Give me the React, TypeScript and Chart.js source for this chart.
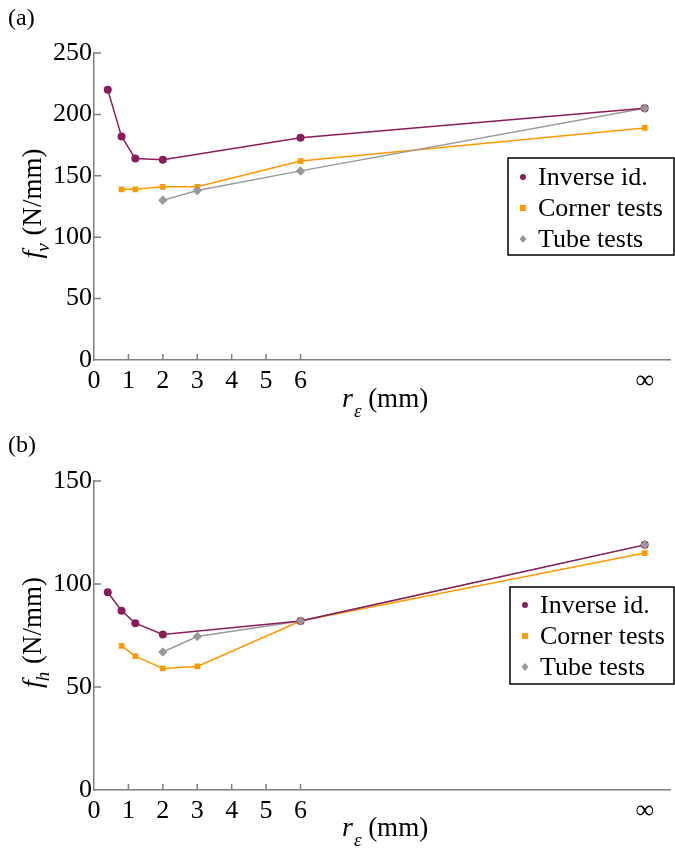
import React, { useEffect, useRef } from "react";
import { Chart, registerables } from "chart.js";
Chart.register(...registerables);

// ---------- data ----------
const INF_POS = 16; // position used for r = infinity
const X_TICKS = [0, 1, 2, 3, 4, 5, 6, INF_POS];
const X_TICK_LABELS = ["0", "1", "2", "3", "4", "5", "6", "∞"];
const X_TICK_MARKS = [1, 2, 3, 4, 5, 6];
const SERIES_NAMES = ["Inverse id.", "Corner tests", "Tube tests"];

const INVERSE_X = [0.4, 0.8, 1.2, 2, 6, INF_POS];
const CORNER_X = [0.8, 1.2, 2, 3, 6, INF_POS];
const TUBE_X = [2, 3, 6, INF_POS];

const A_INVERSE_Y = [220, 182, 164, 163, 181, 205];
const A_CORNER_Y = [139, 139, 141, 141, 162, 189];
const A_TUBE_Y = [130, 138, 154, 205];

const B_INVERSE_Y = [96, 87, 81, 75.5, 82, 119];
const B_CORNER_Y = [70, 65, 59, 60, 82, 115];
const B_TUBE_Y = [67, 74.5, 82, 119];

// ---------- styles ----------
const PURPLE = "#8b1c5c";
const ORANGE = "#ff9900";
const GRAY = "#999999";
const AXIS = "#7f7f7f";
const FONT = "Liberation Serif";

const pts = (xs: number[], ys: number[]) => xs.map((x, i) => ({ x, y: ys[i] }));

const decorPlugin = {
  id: "decor",
  afterDatasetsDraw(chart: any) {
    // tube-test markers sit on top of the other series' markers
    const meta = chart.getDatasetMeta(2);
    const area = chart.chartArea;
    meta.data.forEach((el: any) => el.draw(chart.ctx, area));
  },
  afterDraw(chart: any, _args: any, opts: any) {
    const ctx = chart.ctx;
    const xs = chart.scales.x;
    const ys = chart.scales.y;
    const area = chart.chartArea;
    ctx.save();
    // tick marks (inward)
    ctx.strokeStyle = AXIS;
    ctx.lineWidth = 1.5;
    ctx.beginPath();
    X_TICK_MARKS.forEach((v) => {
      const px = xs.getPixelForValue(v);
      ctx.moveTo(px, area.bottom);
      ctx.lineTo(px, area.bottom - 6);
    });
    for (let v = opts.yStep; v <= opts.yMax; v += opts.yStep) {
      const py = ys.getPixelForValue(v);
      ctx.moveTo(area.left, py);
      ctx.lineTo(area.left + 7, py);
    }
    ctx.stroke();

    ctx.fillStyle = "#000";
    // panel letter
    ctx.font = `24px "${FONT}"`;
    ctx.textBaseline = "alphabetic";
    ctx.textAlign = "left";
    ctx.fillText(opts.letter, 8, opts.letterY);

    // y title (rotated)
    ctx.save();
    ctx.translate(opts.yTitleX, (area.top + area.bottom) / 2 - 3);
    ctx.rotate(-Math.PI / 2);
    const mainF = `italic 28px "${FONT}"`;
    const subF = `italic 19px "${FONT}"`;
    const restF = `27px "${FONT}"`;
    ctx.font = mainF;
    const wf = ctx.measureText("f").width;
    ctx.font = subF;
    const ws = ctx.measureText(opts.ySub).width;
    ctx.font = restF;
    const wr = ctx.measureText(" (N/mm)").width;
    let x0 = -(wf + ws + wr) / 2;
    ctx.font = mainF;
    ctx.fillText("f", x0, 0);
    x0 += wf;
    ctx.font = subF;
    ctx.fillText(opts.ySub, x0 - 1, 8);
    x0 += ws;
    ctx.font = restF;
    ctx.fillText(" (N/mm)", x0, 0);
    ctx.restore();

    // x title
    let xx = 342;
    ctx.font = mainF;
    ctx.fillText("r", xx, opts.xTitleY);
    xx += ctx.measureText("r").width;
    ctx.font = subF;
    ctx.fillText("ε", xx + 1, opts.xTitleY + 10);
    xx += ctx.measureText("ε").width + 1;
    ctx.font = restF;
    ctx.fillText(" (mm)", xx, opts.xTitleY);

    // legend
    const L = opts.legend;
    ctx.strokeStyle = "#000";
    ctx.lineWidth = 1.5;
    ctx.strokeRect(L.x, L.y, L.w, L.h);
    ctx.font = `26px "${FONT}"`;
    ctx.textBaseline = "middle";
    chart.data.datasets.forEach((ds: any, i: number) => {
      const cy = L.y + L.first + i * L.gap;
      const mx = L.x + 15;
      ctx.fillStyle = ds.borderColor;
      ctx.beginPath();
      if (ds.pointStyle === "circle") {
        ctx.arc(mx, cy, 3, 0, Math.PI * 2);
      } else if (ds.pointStyle === "rect") {
        ctx.rect(mx - 3, cy - 3, 6, 6);
      } else {
        ctx.moveTo(mx, cy - 4);
        ctx.lineTo(mx + 3.5, cy);
        ctx.lineTo(mx, cy + 4);
        ctx.lineTo(mx - 3.5, cy);
        ctx.closePath();
      }
      ctx.fill();
      ctx.fillStyle = "#000";
      ctx.fillText(ds.label, L.x + 30, cy + 1);
    });
    ctx.restore();
  },
};

type PanelProps = {
  height: number;
  letter: string;
  letterY: number;
  ySub: string;
  yMax: number;
  yStep: number;
  inverse: number[];
  corner: number[];
  tube: number[];
  padTop: number;
  xAxisH: number;
  yTitleX: number;
  xTitleY: number;
  legend: { x: number; y: number; w: number; h: number; first: number; gap: number };
};

function Panel(p: PanelProps) {
  const ref = useRef<HTMLCanvasElement | null>(null);
  useEffect(() => {
    if (!ref.current) return;
    const mk = (label: string, color: string, data: any, style: string, r: number, order: number) => ({
      label,
      data,
      order,
      borderColor: color,
      backgroundColor: color,
      borderWidth: 1.5,
      pointStyle: style,
      pointRadius: r,
      pointBorderWidth: 0,
      tension: 0,
    });
    const chart = new Chart(ref.current, {
      type: "line",
      data: {
        datasets: [
          mk(SERIES_NAMES[0], PURPLE, pts(INVERSE_X, p.inverse), "circle", 4, 0),
          mk(SERIES_NAMES[1], ORANGE, pts(CORNER_X, p.corner), "rect", 4, 2),
          mk(SERIES_NAMES[2], GRAY, pts(TUBE_X, p.tube), "rectRot", 4.5, 1),
        ] as any,
      },
      options: {
        animation: false,
        responsive: false,
        devicePixelRatio: 1,
        layout: { padding: { top: p.padTop, left: 0, right: 0, bottom: 0 } },
        plugins: {
          legend: { display: false },
          tooltip: { enabled: false },
          decor: {
            letter: p.letter,
            letterY: p.letterY,
            ySub: p.ySub,
            yMax: p.yMax,
            yStep: p.yStep,
            yTitleX: p.yTitleX,
            xTitleY: p.xTitleY,
            legend: p.legend,
          },
        } as any,
        scales: {
          x: {
            type: "linear",
            min: 0,
            max: 16.75,
            grid: { display: false, drawTicks: false },
            border: { display: true, color: AXIS, width: 1.5 },
            afterBuildTicks: (s: any) => {
              s.ticks = X_TICKS.map((v) => ({ value: v }));
            },
            afterFit: (s: any) => {
              s.height = p.xAxisH;
              s.paddingLeft = 0;
              s.paddingRight = 0;
              s.paddingTop = 0;
              s.paddingBottom = 0;
            },
            ticks: {
              autoSkip: false,
              maxRotation: 0,
              padding: 6,
              color: "#000",
              font: { family: FONT, size: 26 },
              callback: (v: any) => {
                const i = X_TICKS.indexOf(Number(v));
                return i >= 0 ? X_TICK_LABELS[i] : "";
              },
            },
          },
          y: {
            type: "linear",
            min: 0,
            max: p.yMax,
            grid: { display: false, drawTicks: false },
            border: { display: true, color: AXIS, width: 1.5 },
            afterFit: (s: any) => {
              s.width = 94;
              s.paddingTop = 0;
              s.paddingBottom = 0;
              s.paddingLeft = 0;
              s.paddingRight = 0;
            },
            ticks: {
              stepSize: p.yStep,
              padding: 2,
              color: "#000",
              font: { family: FONT, size: 26 },
            },
          },
        },
      } as any,
      plugins: [decorPlugin as any],
    });
    return () => chart.destroy();
  }, []);
  return <canvas ref={ref} width={675} height={p.height} style={{ display: "block" }} />;
}

export default function App() {
  return (
    <div style={{ position: "absolute", left: 0, top: 0, width: 675, height: 851, background: "#fff" }}>
      <Panel
        height={425}
        letter="(a)"
        letterY={25}
        ySub="v"
        yMax={250}
        yStep={50}
        inverse={A_INVERSE_Y}
        corner={A_CORNER_Y}
        tube={A_TUBE_Y}
        padTop={53}
        xAxisH={65}
        yTitleX={41}
        xTitleY={407}
        legend={{ x: 508, y: 158, w: 166, h: 97, first: 19, gap: 31 }}
      />
      <Panel
        height={426}
        letter="(b)"
        letterY={27}
        ySub="h"
        yMax={150}
        yStep={50}
        inverse={B_INVERSE_Y}
        corner={B_CORNER_Y}
        tube={B_TUBE_Y}
        padTop={56}
        xAxisH={61}
        yTitleX={41}
        xTitleY={411}
        legend={{ x: 510, y: 162, w: 164, h: 97, first: 18, gap: 31 }}
      />
    </div>
  );
}
